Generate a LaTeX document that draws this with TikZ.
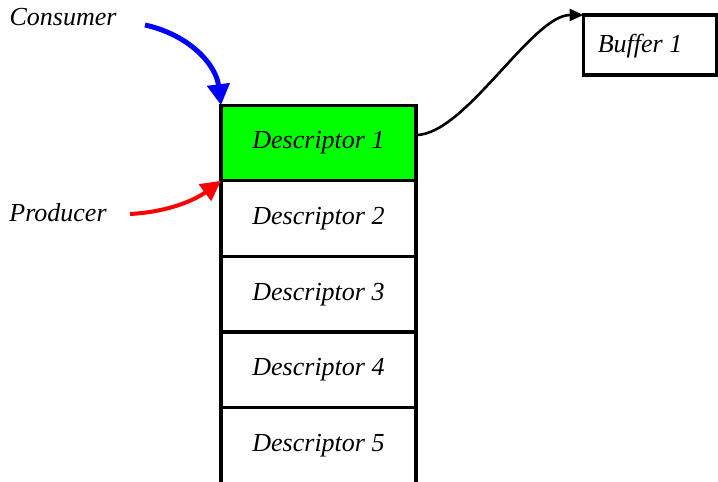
\documentclass[tikz,border=0pt]{standalone}
\usepackage{fontspec}
\setmainfont{Liberation Serif}
\usetikzlibrary{positioning,arrows.meta}

\tikzset{
    desc/.style={draw, line width=1.6pt, minimum width=97.5pt, minimum height=37.8pt,
                 inner sep=0pt, outer sep=0pt},
    lbl/.style={inner sep=0pt},
}

\begin{document}
\begin{tikzpicture}[x=0.5pt, y=-0.5pt, font=\fontsize{13}{15}\selectfont\itshape]
            \useasboundingbox (0,0) rectangle (718,482);

            % ring of descriptors
            \node[desc, fill=green] (d1) at (318.5,143) {Descriptor 1};
            \node[desc, below=0pt of d1] (d2) {Descriptor 2};
            \node[desc, below=0pt of d2] (d3) {Descriptor 3};
            \node[desc, below=0pt of d3] (d4) {Descriptor 4};
            \node[desc, draw=none, below=0pt of d4] (d5) {Descriptor 5};
            \draw[line width=1.6pt] (d5.north west) -- (d5.south west)
                                    (d5.north east) -- (d5.south east);

            \node[desc, minimum width=66.5pt, minimum height=30pt] (b1) at (650,45) {};
            \node[lbl] (b1text) at (640,46) {Buffer 1};

            \node[lbl] (consumer) at (63,17) {Consumer};
            \node[lbl] (producer) at (58,213) {Producer};

            \coordinate (C) at (145,25);
            \coordinate (P) at (130,214);

            \draw[line width=2.5pt, blue, -{Triangle[length=10.5pt, width=11pt]}]
                (C) .. controls (190,35) and (216,65) .. (d1.north west);
            \draw[line width=2pt, red, -{Triangle[length=10pt, width=10pt]}]
                (P) .. controls (168,212) and (195,200) .. (d1.south west);

            \draw[line width=1.3pt, -{Triangle[length=7pt, width=6pt]}]
                ([yshift=4pt]d1.east) .. controls (465,135) and (532,15) .. (b1.north west);
\end{tikzpicture}
\end{document}
